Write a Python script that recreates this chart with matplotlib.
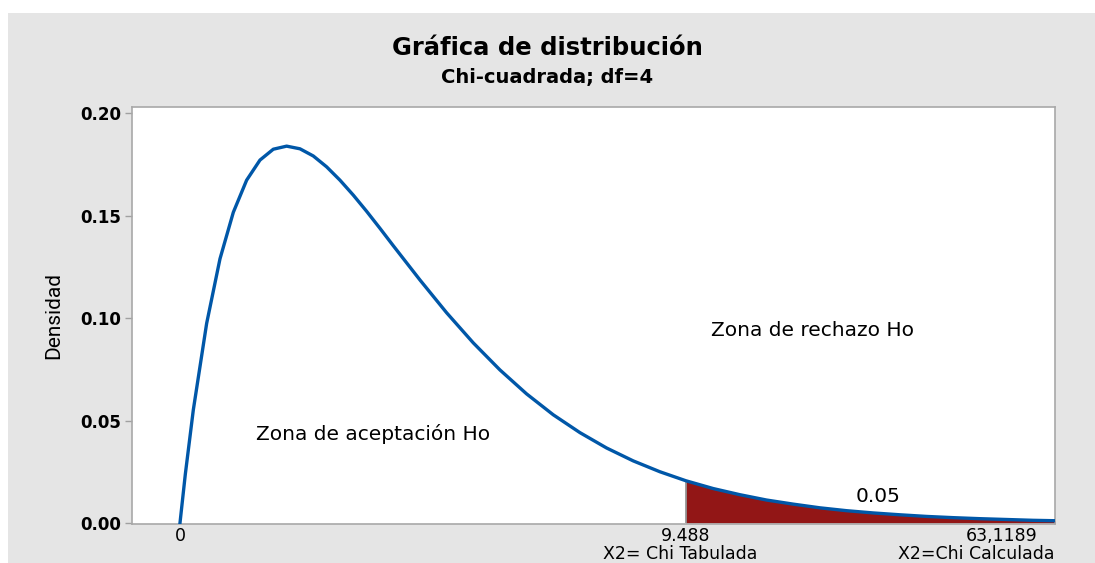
import numpy as np
import matplotlib.pyplot as plt
from matplotlib.patches import Rectangle

# density values (Chi-cuadrada, df=4)
x_vals = [0.0, 0.1, 0.25, 0.5, 0.75, 1.0, 1.25, 1.5, 1.75, 2.0, 2.25, 2.5, 2.75,
          3.0, 3.25, 3.5, 3.75, 4.0, 4.5, 5.0, 5.5, 6.0, 6.5, 7.0, 7.5, 8.0,
          8.5, 9.0, 9.488, 10.0, 10.5, 11.0, 11.5, 12.0, 12.5, 13.0, 13.5,
          14.0, 14.5, 15.0, 15.5, 16.0, 16.41]
dens_vals = [0.0, 0.0238, 0.0552, 0.0974, 0.1289, 0.1516, 0.1673, 0.1771, 0.1824,
             0.1839, 0.1826, 0.1791, 0.1738, 0.1673, 0.1600, 0.1521, 0.1438,
             0.1353, 0.1186, 0.1026, 0.0879, 0.0747, 0.0630, 0.0528, 0.0441,
             0.0366, 0.0303, 0.0250, 0.0206, 0.0168, 0.0138, 0.0112, 0.0092,
             0.0074, 0.0060, 0.0049, 0.0040, 0.0032, 0.0026, 0.0021, 0.0017,
             0.0013, 0.0011]
crit = 9.488
alpha_txt = '0.05'
xtick_pos = [0, 9.488, 15.4]
xtick_labels = ['0', '9.488', '63,1189']
ytick_vals = [0.00, 0.05, 0.10, 0.15, 0.20]

plt.rcParams['font.family'] = ['DejaVu Sans']

x = np.array(x_vals)
y = np.array(dens_vals)

fig = plt.figure(figsize=(10.95, 5.63), dpi=100)
fig.patch.set_facecolor('white')
# gray panel behind the chart
fig.patches.append(Rectangle((8 / 1095, 0), 1 - 8 / 1095, 1 - 13 / 563,
                             transform=fig.transFigure, facecolor='#e5e5e5',
                             edgecolor='none', zorder=0))

ax = fig.add_axes([132 / 1095, 1 - 524 / 563, (1055 - 132) / 1095, (524 - 107) / 563])
ax.set_zorder(2)
ax.set_facecolor('white')

# shaded rejection region
mask = x >= crit
ax.fill_between(x[mask], 0, y[mask], color='#921616', linewidth=0, zorder=2)
ax.vlines(crit, 0, y[x == crit][0], color='#8c8c8c', linewidth=1.2, zorder=2)
ax.plot(x, y, color='#0057a8', linewidth=2.4, zorder=3)

ax.set_xlim(-0.9, 16.41)
ax.set_ylim(-0.0005, 0.203)

ax.set_yticks(ytick_vals)
ax.set_yticklabels([f'{v:.2f}' for v in ytick_vals], fontweight='bold', fontsize=12)
ax.set_xticks(xtick_pos)
ax.set_xticklabels(xtick_labels, fontsize=12.5)
ax.tick_params(axis='x', length=0, pad=2)
ax.tick_params(axis='y', length=5, color='#a0a0a0', width=1, pad=3)
for s in ax.spines.values():
    s.set_color('#a8a8a8')
    s.set_linewidth(1.2)

ax.set_ylabel('Densidad', fontsize=15, labelpad=12,
              family=['Roboto', 'DejaVu Sans'])

# second row of the x labels
ax.text(9.39, -0.0152, 'X2= Chi Tabulada', fontsize=12.5, ha='center', va='center',
        clip_on=False)
ax.text(14.93, -0.0152, 'X2=Chi Calculada', fontsize=12.5, ha='center', va='center',
        clip_on=False)

ax.text(3.62, 0.0434, 'Zona de aceptación Ho', fontsize=14.5, ha='center', va='center')
ax.text(11.87, 0.0937, 'Zona de rechazo Ho', fontsize=14.5, ha='center', va='center')
ax.text(13.09, 0.0127, alpha_txt, fontsize=14.5, ha='center', va='center')

fig.text(0.5, 1 - 48 / 563, 'Gráfica de distribución', fontsize=17.5,
         fontweight='bold', ha='center', va='center')
fig.text(0.5, 1 - 78 / 563, 'Chi-cuadrada; df=4', fontsize=14,
         fontweight='bold', ha='center', va='center')

plt.savefig('out.png', dpi=100)
